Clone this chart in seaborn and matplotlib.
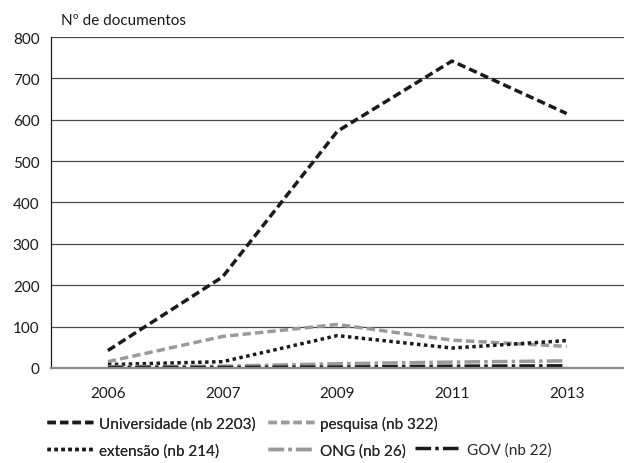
import matplotlib
matplotlib.use("Agg")
import matplotlib.pyplot as plt
import numpy as np
import pandas as pd
import seaborn as sns
from matplotlib.lines import Line2D

years = ["2006", "2007", "2009", "2011", "2013"]
universidade = [42, 220, 572, 742, 615]
pesquisa = [15, 76, 105, 67, 52]
extensao = [8, 15, 78, 48, 66]
ong = [3, 4, 10, 14, 17]
gov = [1, 1, 2, 4, 5]

series_names = [
    "Universidade (nb 2203)",
    "pesquisa (nb 322)",
    "extensão (nb 214)",
    "ONG (nb 26)",
    "GOV (nb 22)",
]
series_values = [universidade, pesquisa, extensao, ong, gov]
colors = ["#1a1a1a", "#9a9a9a", "#1a1a1a", "#9a9a9a", "#1a1a1a"]
dashes = [(2.4, 1.2), (2.4, 1.2), (1, 1), (4.5, 1.2, 1, 1.2), (4.5, 1.2, 1, 1.2)]

df = pd.DataFrame(
    {
        "ano": years * len(series_names),
        "docs": sum(series_values, []),
        "serie": np.repeat(series_names, len(years)),
    }
)

sns.set_style("white")
plt.rcParams["font.family"] = ["Lato", "DejaVu Sans"]

fig = plt.figure(figsize=(6.24, 4.64), dpi=100)
ax = fig.add_axes([0.081, 0.205, 0.919, 0.713])

handles = []
for name, col, dsh in zip(series_names, colors, dashes):
    sub = df[df["serie"] == name]
    sns.lineplot(data=sub, x="ano", y="docs", ax=ax, color=col, linewidth=2.5,
                 sort=False, legend=False)
    ln = ax.lines[-1]
    ln.set_dashes(dsh)
    ln.set_dash_capstyle("butt")
    handles.append(Line2D([], [], color=col, linewidth=2.5, dashes=dsh,
                          dash_capstyle="butt"))

ax.set_xlim(-0.5, len(years) - 0.5)
ax.set_ylim(0, 800)
ax.set_yticks(range(0, 801, 100))
ax.yaxis.grid(True, color="#4a4a4a", linewidth=0.9)
ax.set_axisbelow(True)
ax.tick_params(axis="both", length=0, labelsize=11, colors="#1a1a1a")
ax.tick_params(axis="x", pad=13)
ax.tick_params(axis="y", pad=8)
ax.set_xlabel("")
ax.set_ylabel("")
for s in ["top", "right"]:
    ax.spines[s].set_visible(False)
ax.spines["left"].set_color("#1a1a1a")
ax.spines["left"].set_linewidth(0.9)
ax.spines["bottom"].set_color("#8a8a8a")
ax.spines["bottom"].set_linewidth(1.6)

fig.text(0.098, 0.955, "Nº de documentos", fontsize=11, ha="left", va="center",
         color="#1a1a1a")

# legenda em duas partes (como no Excel: GOV fica sozinho na 2a linha)
leg_kw = dict(loc="upper left", frameon=False, fontsize=11, handlelength=3.0,
              handletextpad=0.4, labelspacing=0.8, borderaxespad=0)
leg1 = fig.legend([handles[0], handles[2], handles[1], handles[3]],
                  [series_names[0], series_names[2], series_names[1], series_names[3]],
                  ncol=2, columnspacing=0.8, bbox_to_anchor=(0.066, 0.115), **leg_kw)
blank = Line2D([], [], color="none")
fig.legend([blank, handles[4]], ["", series_names[4]], ncol=1,
           bbox_to_anchor=(0.655, 0.115), **leg_kw)
fig.add_artist(leg1)

fig.savefig("out.png", dpi=100)
